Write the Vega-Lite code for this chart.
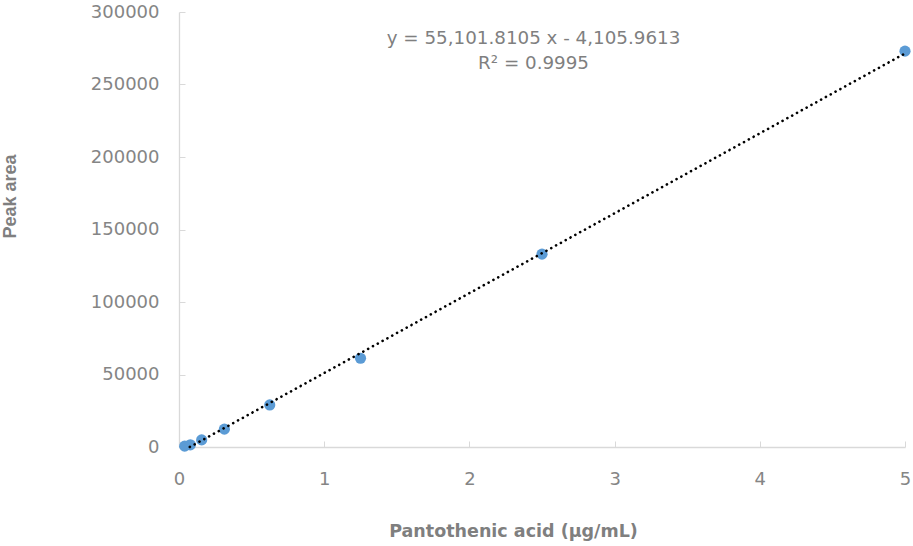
{
  "$schema": "https://vega.github.io/schema/vega-lite/v6.json",
  "width": 726,
  "height": 435,
  "autosize": "none",
  "padding": {"left": 179, "top": 12, "right": 8, "bottom": 99},
  "background": "white",
  "config": {"view": {"stroke": null}},
  "datasets": {
    "points": [
      {"conc": 0.039, "area": 600},
      {"conc": 0.078, "area": 1500},
      {"conc": 0.156, "area": 4900},
      {"conc": 0.3125, "area": 12300},
      {"conc": 0.625, "area": 29000},
      {"conc": 1.25, "area": 61200},
      {"conc": 2.5, "area": 133000},
      {"conc": 5, "area": 273000}
    ],
    "trend": [
      {"conc": 0.0745, "area": 0},
      {"conc": 5, "area": 271403}
    ],
    "note": [
      {"label": "equation"}
    ]
  },
  "layer": [
    {
      "data": {"name": "points"},
      "mark": {"type": "circle", "color": "#5B9BD5", "opacity": 1, "size": 125},
      "encoding": {
        "x": {"field": "conc", "type": "quantitative", "scale": {"domain": [0, 5], "nice": false, "zero": false},
          "axis": {"title": "Pantothenic acid (μg/mL)", "values": [0, 1, 2, 3, 4, 5], "format": "d", "grid": false, "labelFlush": false,
            "domainColor": "#D9D9D9", "domainWidth": 1.3, "tickColor": "#D9D9D9", "tickSize": -6, "labelPadding": 29,
            "labelFont": "DejaVu Sans", "labelFontSize": 18, "labelColor": "#858585",
            "titleFont": "DejaVu Sans", "titleFontSize": 17.5, "titleFontWeight": "bold", "titleColor": "#7F7F7F",
            "titleX": 334, "titleY": 84, "titleBaseline": "middle", "titleAlign": "center"}},
        "y": {"field": "area", "type": "quantitative", "scale": {"domain": [0, 300000], "nice": false},
          "axis": {"title": "Peak area", "values": [0, 50000, 100000, 150000, 200000, 250000, 300000], "format": "d", "grid": false, "labelFlush": false,
            "domainColor": "#D9D9D9", "domainWidth": 1.3, "tickColor": "#D9D9D9", "tickSize": -6, "labelPadding": 26,
            "labelFont": "DejaVu Sans", "labelFontSize": 18, "labelColor": "#858585",
            "titleFont": "Liberation Sans", "titleFontSize": 18, "titleFontWeight": "bold", "titleColor": "#7F7F7F",
            "titleX": -169, "titleY": 184, "titleBaseline": "middle", "titleAlign": "center", "titleAngle": -90}}
      }
    },
    {
      "data": {"name": "trend"},
      "mark": {"type": "line", "color": "black", "strokeWidth": 2.6, "strokeCap": "round", "strokeDash": [0.1, 5.4]},
      "encoding": {
        "x": {"field": "conc", "type": "quantitative"},
        "y": {"field": "area", "type": "quantitative"}
      }
    },
    {
      "data": {"name": "note"},
      "mark": {"type": "text", "font": "DejaVu Sans", "fontSize": 18.3, "color": "#7F7F7F", "align": "center", "baseline": "middle", "lineHeight": 25},
      "encoding": {
        "x": {"datum": 2.4415},
        "y": {"datum": 281700},
        "text": {"value": ["y = 55,101.8105 x - 4,105.9613", "R² = 0.9995"]}
      }
    }
  ]
}
